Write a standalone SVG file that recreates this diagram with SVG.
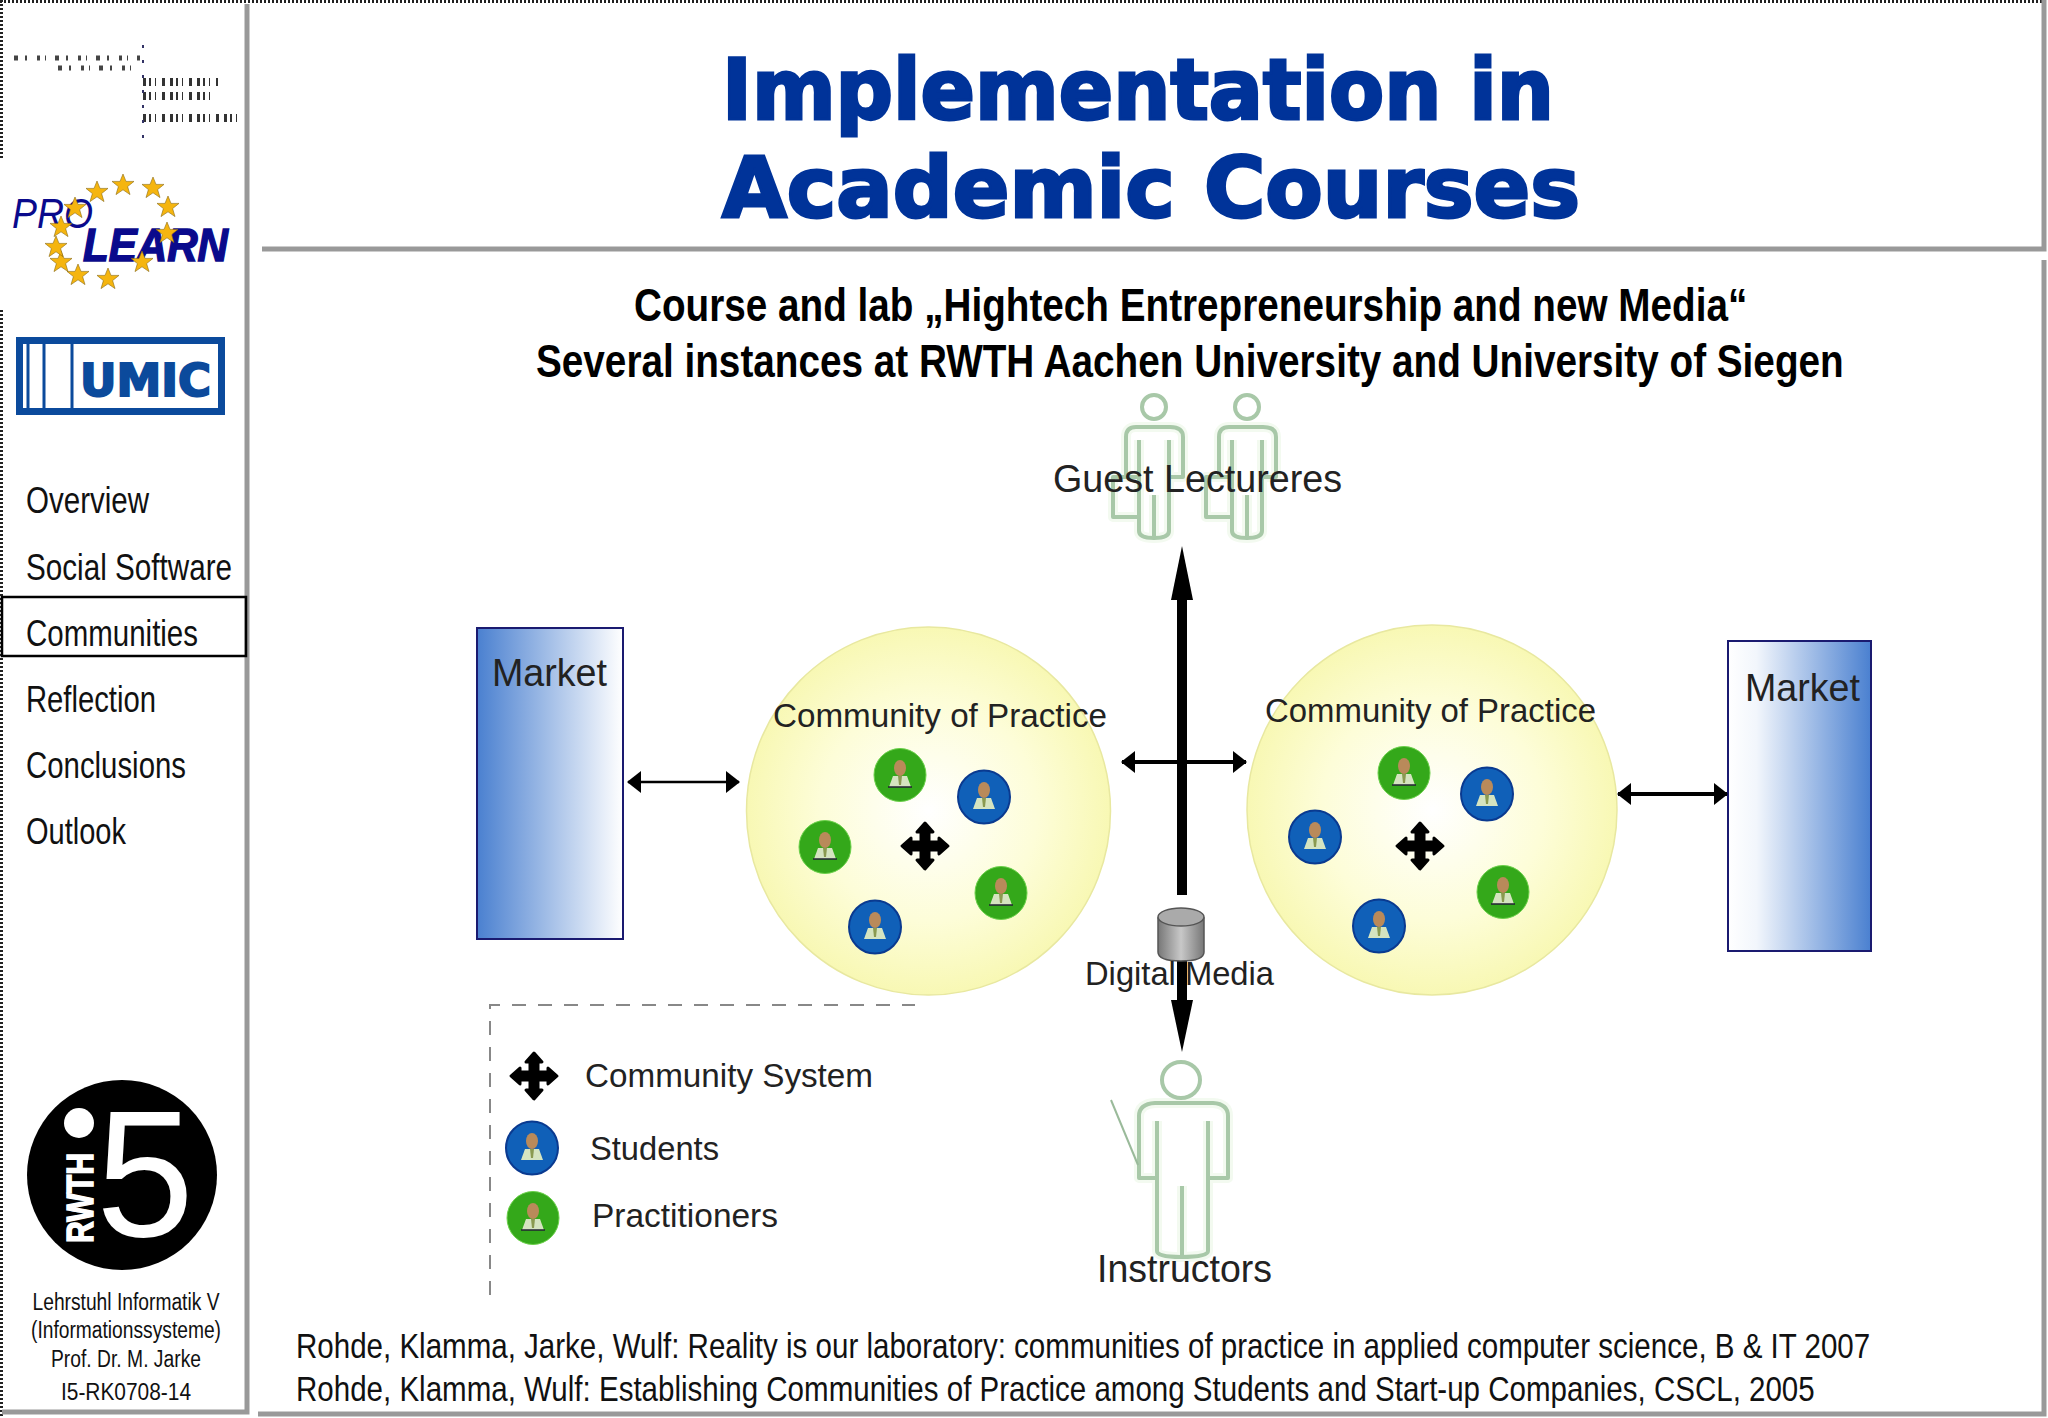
<svg xmlns="http://www.w3.org/2000/svg" width="2048" height="1418" viewBox="0 0 2048 1418">
<style>
.s{font-family:"Liberation Sans",Arial,sans-serif;fill:#111}
.b{font-family:"Liberation Sans",Arial,sans-serif;font-weight:700;fill:#000}
.t{font-family:"DejaVu Sans",sans-serif;font-weight:700;fill:#003399;stroke:#003399;stroke-width:3;font-size:84px}
.m{font-size:36px}
.d{font-size:34px;fill:#222}
.f{font-size:23px;text-anchor:middle}
.c{font-size:35px}
.frame{stroke:#999;fill:none;stroke-width:5}
.dot{stroke:#222;fill:none;stroke-width:3;stroke-dasharray:2 2}
.con{stroke:#000;fill:none}
.p{fill:none;stroke:#a8c8a8;stroke-width:4;stroke-linejoin:round}
.halo{fill:none;stroke:#f3faf0;stroke-width:10;stroke-linejoin:round}
</style>
<defs>
<radialGradient id="yg"><stop offset="0" stop-color="#ffffff"/><stop offset="0.6" stop-color="#fdfdd8"/><stop offset="1" stop-color="#f8f8b4"/></radialGradient>
<linearGradient id="ml" x1="0" x2="1" y1="0" y2="0"><stop offset="0" stop-color="#4a80d0"/><stop offset="1" stop-color="#ffffff"/></linearGradient>
<linearGradient id="mr" x1="0" x2="1" y1="0" y2="0"><stop offset="0" stop-color="#ffffff"/><stop offset="0.2" stop-color="#f2f6fc"/><stop offset="1" stop-color="#4a80d0"/></linearGradient>
<linearGradient id="cy" x1="0" x2="1" y1="0" y2="0"><stop offset="0" stop-color="#777"/><stop offset="0.5" stop-color="#c8c8c8"/><stop offset="1" stop-color="#777"/></linearGradient>
<marker id="ah" viewBox="0 0 14 22" refX="13" refY="11" markerWidth="14" markerHeight="22" markerUnits="userSpaceOnUse" orient="auto-start-reverse"><path d="M0 0L14 11L0 22z" fill="#000"/></marker>
<g id="face"><ellipse cx="0" cy="-7" rx="6" ry="8" fill="#b98a5a"/><path d="M-11 12L-7 1H7L11 12z" fill="#d5e4c0"/><path d="M-2 1H2L1 10H-1z" fill="#8a9a50"/></g>
<g id="green"><ellipse rx="26" ry="26.5" fill="#34a81a" stroke="#6bd04a" stroke-width="1"/><use href="#face"/><path d="M-12 12H12" stroke="#223" stroke-width="1.5"/></g>
<g id="blue"><ellipse rx="26" ry="26.5" fill="#1060b8" stroke="#0a3a90" stroke-width="2"/><use href="#face"/></g>
<path id="cross" d="M0-23L8-14H4V-4H14V-8L23 0L14 8V4H4V14H8L0 23L-8 14H-4V4H-14V8L-23 0L-14-8V-4H-4V-14H-8z" fill="#000" stroke="#000" stroke-width="3" stroke-linejoin="round"/>
<path id="guestshape" d="M13 82H0V42Q0 32 10 32H44Q57 32 57 42V82H43M13 45V136Q13 143 28 143Q43 143 43 136V45M28 143V100M-13 82H13V122H-13z"/>
<g id="guest"><use href="#guestshape" class="halo"/><ellipse cx="28" cy="12" rx="12" ry="12" class="p"/><use href="#guestshape" class="p"/></g>
<path id="instshape" d="M18 117H0V55Q0 43 16 42H74Q89 43 89 55V117H69M18 60V190Q18 196 42 196Q69 196 69 190V60M43 196V125"/>
<g id="inst"><use href="#instshape" class="halo"/><ellipse cx="42" cy="19" rx="19" ry="18" class="p"/><use href="#instshape" class="p"/></g>
<polygon id="star" points="0,-11 3,-3.6 11,-3.6 4.6,1.6 7,9.6 0,4.8 -7,9.6 -4.6,1.6 -11,-3.6 -3,-3.6" fill="#f5b50f" stroke="#8a6a10" stroke-width="0.6"/>
</defs>
<rect width="2048" height="1418" fill="#fff"/>
<g id="frame">
<path class="dot" d="M0 1.5H2048M1.5 0V160M1.5 310V1418"/>
<path class="frame" d="M247 4V1412H2M262 249H2044V0M2044 260V1414H258"/>
</g>
<g id="logo-top">
<path d="M14 58H140M58 68H135" stroke="#444" stroke-width="5" stroke-dasharray="4 7 2 10 3 5 1 9" fill="none"/>
<path d="M143 82H218M143 96H216M143 118H240" stroke="#333" stroke-width="8" stroke-dasharray="3 3 2 4 1 6 3 5" fill="none"/>
<path d="M143 45V138" stroke="#336" stroke-width="2" stroke-dasharray="3 12" fill="none"/>
</g>
<g id="logo-prolearn">
<text x="12" y="228" font-family="Liberation Sans,sans-serif" font-style="italic" font-size="43" fill="#0a0a8c" textLength="81" lengthAdjust="spacingAndGlyphs">PRO</text>
<use href="#star" x="123" y="185"/><use href="#star" x="153" y="188"/><use href="#star" x="168" y="207"/><use href="#star" x="108" y="279"/><use href="#star" x="78" y="275"/><use href="#star" x="61" y="262"/><use href="#star" x="56" y="247"/><use href="#star" x="61" y="227"/><use href="#star" x="75" y="208"/><use href="#star" x="97" y="192"/>
<text x="83" y="261" font-family="Liberation Sans,sans-serif" font-weight="700" font-style="italic" font-size="46" fill="#0a0a8c" stroke="#0a0a8c" stroke-width="1.5" textLength="145" lengthAdjust="spacingAndGlyphs">LEARN</text>
<use href="#star" x="167" y="233"/><use href="#star" x="142" y="262"/>
</g>
<g id="logo-umic">
<rect x="16" y="337" width="209" height="78" fill="#0b4a9c"/>
<rect x="23" y="344" width="195" height="64" fill="#fff"/>
<path d="M28 344V408M44 344V408M72 344V408" stroke="#0b4a9c" stroke-width="3" fill="none"/>
<text x="80" y="396" font-family="DejaVu Sans,sans-serif" font-weight="700" font-size="44" fill="#0b4a9c" stroke="#0b4a9c" stroke-width="2" textLength="131" lengthAdjust="spacingAndGlyphs">UMIC</text>
</g>
<g id="menu">
<rect x="2" y="597" width="244" height="59" fill="none" stroke="#000" stroke-width="2.5"/>
<text class="s m" x="26" y="513" textLength="123" lengthAdjust="spacingAndGlyphs">Overview</text>
<text class="s m" x="26" y="580" textLength="206" lengthAdjust="spacingAndGlyphs">Social Software</text>
<text class="s m" x="26" y="646" textLength="172" lengthAdjust="spacingAndGlyphs">Communities</text>
<text class="s m" x="26" y="712" textLength="130" lengthAdjust="spacingAndGlyphs">Reflection</text>
<text class="s m" x="26" y="778" textLength="160" lengthAdjust="spacingAndGlyphs">Conclusions</text>
<text class="s m" x="26" y="844" textLength="100" lengthAdjust="spacingAndGlyphs">Outlook</text>
</g>
<g id="logo-rwth">
<circle cx="122" cy="1175" r="95" fill="#000"/>
<circle cx="79" cy="1123" r="15" fill="#fff"/>
<text transform="translate(93 1243) rotate(-90)" font-family="Liberation Sans,sans-serif" font-weight="700" font-size="36" fill="#fff" stroke="#fff" stroke-width="1.5" textLength="90" lengthAdjust="spacingAndGlyphs">RWTH</text>
<text x="96" y="1236" font-family="Liberation Sans,sans-serif" font-size="180" fill="#fff" textLength="98" lengthAdjust="spacingAndGlyphs">5</text>
</g>
<g id="institute">
<text class="s f" x="126" y="1310" textLength="187" lengthAdjust="spacingAndGlyphs">Lehrstuhl Informatik V</text>
<text class="s f" x="126" y="1338" textLength="190" lengthAdjust="spacingAndGlyphs">(Informationssysteme)</text>
<text class="s f" x="126" y="1367" textLength="150" lengthAdjust="spacingAndGlyphs">Prof. Dr. M. Jarke</text>
<text class="s f" x="126" y="1400" textLength="130" lengthAdjust="spacingAndGlyphs">I5-RK0708-14</text>
</g>
<g id="title">
<text class="t" x="722" y="119" textLength="832" lengthAdjust="spacingAndGlyphs">Implementation in</text>
<text class="t" x="722" y="217" textLength="858" lengthAdjust="spacingAndGlyphs">Academic Courses</text>
</g>
<g id="subtitle">
<text class="b" font-size="46" transform="translate(634 321) scale(.9 1)" textLength="1237" lengthAdjust="spacingAndGlyphs">Course and lab „Hightech Entrepreneurship and new Media“</text>
<text class="b" font-size="46" transform="translate(536 377) scale(.9 1)" textLength="1453" lengthAdjust="spacingAndGlyphs">Several instances at RWTH Aachen University and University of Siegen</text>
</g>
<g id="community-left">
<ellipse cx="928.5" cy="811" rx="182" ry="184" fill="url(#yg)" stroke="#e8e8a0" stroke-width="1.5"/>
<use href="#green" x="900" y="775"/><use href="#blue" x="984" y="797"/><use href="#green" x="825" y="847"/><use href="#green" x="1001" y="893"/><use href="#blue" x="875" y="927"/><use href="#cross" x="925" y="846"/>
<text class="s d" x="773" y="727" textLength="334" lengthAdjust="spacingAndGlyphs">Community of Practice</text>
</g>
<g id="community-right">
<ellipse cx="1432" cy="810" rx="185" ry="185" fill="url(#yg)" stroke="#e8e8a0" stroke-width="1.5"/>
<use href="#green" x="1404" y="773"/><use href="#blue" x="1487" y="794"/><use href="#blue" x="1315" y="837"/><use href="#green" x="1503" y="892"/><use href="#blue" x="1379" y="926"/><use href="#cross" x="1420" y="846"/>
<text class="s d" x="1265" y="722" textLength="331" lengthAdjust="spacingAndGlyphs">Community of Practice</text>
</g>
<g id="market-left">
<rect x="477" y="628" width="146" height="311" fill="url(#ml)" stroke="#1a1a70" stroke-width="2"/>
<text class="s d" x="492" y="686" textLength="115" lengthAdjust="spacingAndGlyphs" style="font-size:38px">Market</text>
</g>
<g id="market-right">
<rect x="1728" y="641" width="143" height="310" fill="url(#mr)" stroke="#1a1a70" stroke-width="2"/>
<text class="s d" x="1745" y="701" textLength="115" lengthAdjust="spacingAndGlyphs" style="font-size:38px">Market</text>
</g>
<g id="guest-lecturers">
<use href="#guest" x="1126" y="395"/><use href="#guest" x="1219" y="395"/>
<text class="s d" x="1053" y="492" textLength="289" lengthAdjust="spacingAndGlyphs" style="font-size:38px">Guest Lectureres</text>
</g>
<g id="instructors">
<use href="#inst" x="1139" y="1061"/>
<path d="M1111 1100L1138 1165" stroke="#9aba9a" stroke-width="2" fill="none"/>
<text class="s d" x="1097" y="1282" textLength="175" lengthAdjust="spacingAndGlyphs" style="font-size:38px">Instructors</text>
</g>
<g id="connectors">
<path class="con" stroke-width="2.5" d="M628 782H739" marker-start="url(#ah)" marker-end="url(#ah)"/>
<path class="con" stroke-width="4" d="M1122 762H1246" marker-start="url(#ah)" marker-end="url(#ah)"/>
<path class="con" stroke-width="4" d="M1618 794H1727" marker-start="url(#ah)" marker-end="url(#ah)"/>
<path d="M1182 895V590" stroke="#000" stroke-width="10" fill="none"/>
<path d="M1182 546L1193 600H1171z" fill="#000"/>
<path d="M1182 958V1010" stroke="#000" stroke-width="10" fill="none"/>
<path d="M1182 1052L1171 1000H1193z" fill="#000"/>
</g>
<g id="digital-media">
<path d="M1158 918V952Q1158 961 1181 961Q1204 961 1204 952V918z" fill="url(#cy)" stroke="#555" stroke-width="1.5"/>
<ellipse cx="1181" cy="917" rx="23" ry="9" fill="#aaa" stroke="#555" stroke-width="1.5"/>
<text class="s d" x="1085" y="985" textLength="189" lengthAdjust="spacingAndGlyphs">Digital Media</text>
</g>
<g id="legend">
<path d="M490 1295V1005H915" fill="none" stroke="#888" stroke-width="2" stroke-dasharray="14 12"/>
<use href="#cross" x="534" y="1076"/>
<use href="#blue" x="532" y="1148"/><use href="#green" x="533" y="1218"/>
<text class="s d" x="585" y="1087" textLength="288" lengthAdjust="spacingAndGlyphs">Community System</text>
<text class="s d" x="590" y="1160" textLength="129" lengthAdjust="spacingAndGlyphs">Students</text>
<text class="s d" x="592" y="1227" textLength="186" lengthAdjust="spacingAndGlyphs">Practitioners</text>
</g>
<g id="references">
<text class="s c" transform="translate(296 1358) scale(.84 1)" textLength="1874" lengthAdjust="spacingAndGlyphs">Rohde, Klamma, Jarke, Wulf: Reality is our laboratory: communities of practice in applied computer science, B &amp; IT 2007</text>
<text class="s c" transform="translate(296 1401) scale(.84 1)" textLength="1808" lengthAdjust="spacingAndGlyphs">Rohde, Klamma, Wulf: Establishing Communities of Practice among Students and Start-up Companies, CSCL, 2005</text>
</g>
</svg>
